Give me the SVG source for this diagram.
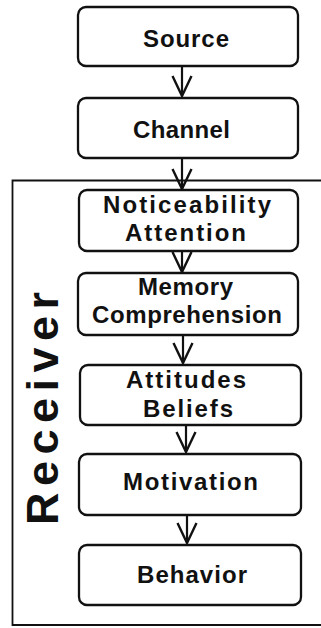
<svg xmlns="http://www.w3.org/2000/svg" width="321" height="628" viewBox="0 0 321 628">
<style>
.box{fill:#fff;stroke:#111;stroke-width:2.3}
.lbl{font-family:"Liberation Sans",Arial,Helvetica,sans-serif;font-weight:bold;font-size:24px;fill:#111}
.con{stroke:#111;stroke-width:2.2;fill:none}
.frame{stroke:#111;stroke-width:1.8;fill:none}
</style>
<defs>
<marker id="ah" viewBox="-22 -11 24 22" refX="0" refY="0" markerWidth="24" markerHeight="22" markerUnits="userSpaceOnUse" orient="auto">
<path d="M-20,-9.5 L0,0 L-20,9.5" fill="none" stroke="#111" stroke-width="2.4"/>
</marker>
</defs>
<rect width="321" height="628" fill="#fff"/>
<g id="receiver">
<path class="frame" d="M321,180.5 H12.5 V625 H321"/>
<text class="lbl" style="font-size:45px" transform="translate(58,525) rotate(-90)" x="0" y="0" textLength="233" lengthAdjust="spacing">Receiver</text>
</g>
<g id="connectors">
<line class="con" x1="182" y1="66" x2="182" y2="96" marker-end="url(#ah)"/>
<line class="con" x1="182" y1="158" x2="182" y2="189" marker-end="url(#ah)"/>
<line class="con" x1="182" y1="251" x2="182" y2="272" marker-end="url(#ah)"/>
<line class="con" x1="183" y1="335" x2="183" y2="363" marker-end="url(#ah)"/>
<line class="con" x1="186" y1="425" x2="186" y2="452" marker-end="url(#ah)"/>
<line class="con" x1="187" y1="515" x2="187" y2="543" marker-end="url(#ah)"/>
</g>
<g id="source">
<rect class="box" x="78" y="7" width="220" height="59" rx="8"/>
<text class="lbl" x="143" y="47" textLength="86" lengthAdjust="spacing">Source</text>
</g>
<g id="channel">
<rect class="box" x="78" y="98" width="220" height="60" rx="8"/>
<text class="lbl" x="133" y="138" textLength="97" lengthAdjust="spacing">Channel</text>
</g>
<g id="noticeability">
<rect class="box" x="79" y="190" width="219" height="61" rx="8"/>
<text class="lbl" x="103" y="213" textLength="168" lengthAdjust="spacing">Noticeability</text>
<text class="lbl" x="125" y="241" textLength="121" lengthAdjust="spacing">Attention</text>
</g>
<g id="memory">
<rect class="box" x="78" y="273" width="220" height="62" rx="8"/>
<text class="lbl" x="138" y="295" textLength="95" lengthAdjust="spacing">Memory</text>
<text class="lbl" x="92" y="323" textLength="190" lengthAdjust="spacing">Comprehension</text>
</g>
<g id="attitudes">
<rect class="box" x="80" y="365" width="221" height="60" rx="8"/>
<text class="lbl" x="126" y="388" textLength="120" lengthAdjust="spacing">Attitudes</text>
<text class="lbl" x="143" y="417" textLength="90" lengthAdjust="spacing">Beliefs</text>
</g>
<g id="motivation">
<rect class="box" x="79" y="454" width="222" height="61" rx="8"/>
<text class="lbl" x="123" y="490" textLength="135" lengthAdjust="spacing">Motivation</text>
</g>
<g id="behavior">
<rect class="box" x="79" y="545" width="222" height="60" rx="8"/>
<text class="lbl" x="137" y="583" textLength="110" lengthAdjust="spacing">Behavior</text>
</g>
</svg>
